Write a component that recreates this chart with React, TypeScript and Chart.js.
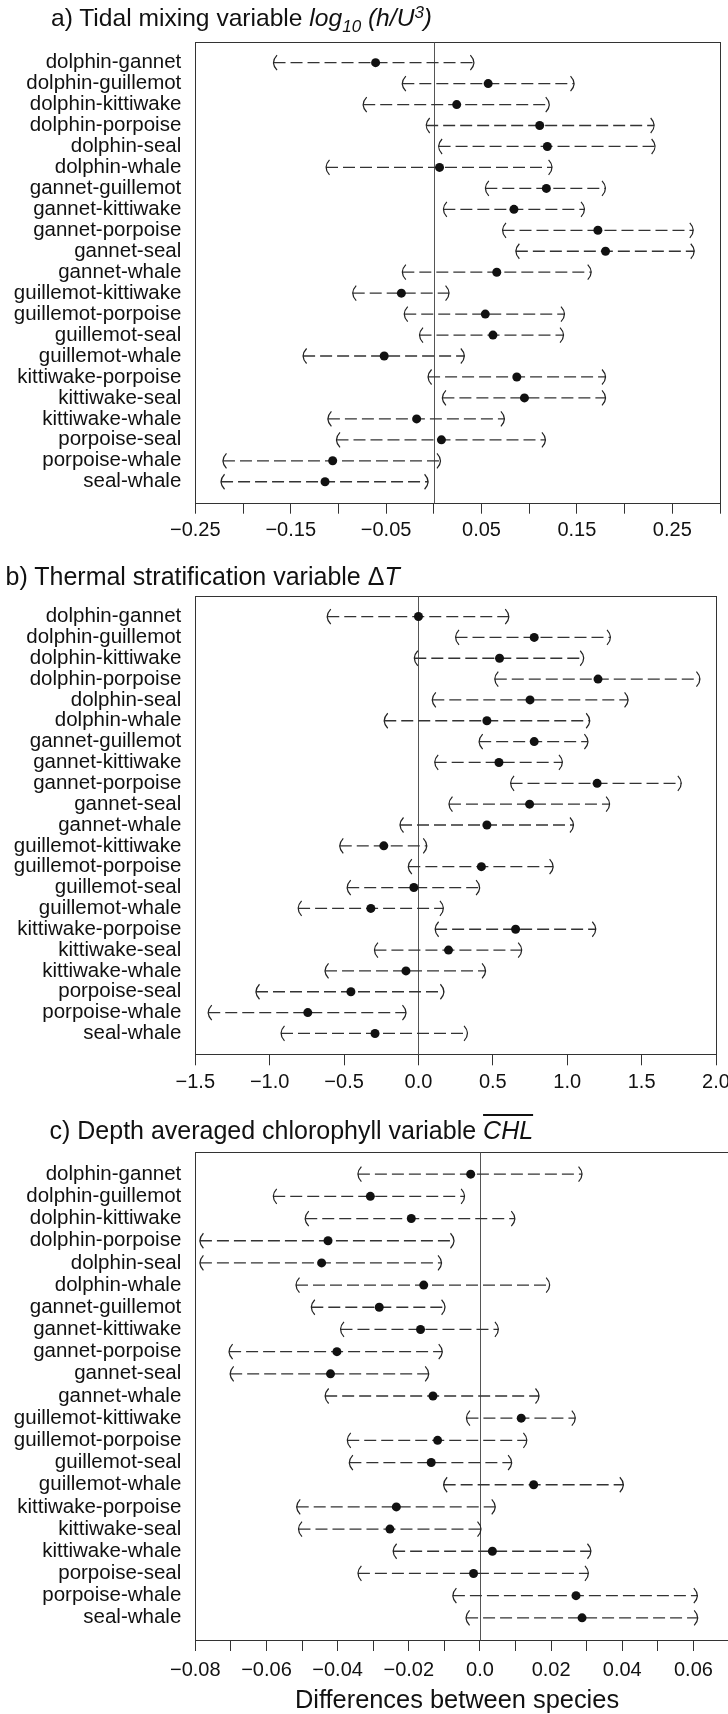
import React, { useEffect, useRef } from 'react';
import { Chart, registerables } from 'chart.js';

Chart.register(...registerables);

const FONT = '"Liberation Sans", Arial, Helvetica, sans-serif';

const PAIRS = [
  'dolphin-gannet', 'dolphin-guillemot', 'dolphin-kittiwake', 'dolphin-porpoise', 'dolphin-seal',
  'dolphin-whale', 'gannet-guillemot', 'gannet-kittiwake', 'gannet-porpoise', 'gannet-seal',
  'gannet-whale', 'guillemot-kittiwake', 'guillemot-porpoise', 'guillemot-seal', 'guillemot-whale',
  'kittiwake-porpoise', 'kittiwake-seal', 'kittiwake-whale', 'porpoise-seal', 'porpoise-whale', 'seal-whale',
];

// a) Tidal mixing variable
const A_LO = [-0.168, -0.033, -0.074, -0.008, 0.005, -0.113, 0.054, 0.010, 0.072, 0.086, -0.033, -0.085, -0.031, -0.015, -0.137, -0.006, 0.009, -0.111, -0.102, -0.221, -0.223];
const A_MEAN = [-0.061, 0.057, 0.024, 0.111, 0.119, 0.006, 0.118, 0.084, 0.172, 0.180, 0.066, -0.034, 0.054, 0.062, -0.052, 0.087, 0.095, -0.018, 0.008, -0.106, -0.114];
const A_HI = [0.042, 0.147, 0.121, 0.231, 0.232, 0.124, 0.180, 0.158, 0.272, 0.273, 0.165, 0.016, 0.137, 0.136, 0.032, 0.180, 0.180, 0.074, 0.117, 0.007, -0.006];
const A_TICKS = [-0.25, -0.2, -0.15, -0.1, -0.05, 0, 0.05, 0.1, 0.15, 0.2, 0.25, 0.3];
const A_TICK_LABELS = ['\u22120.25', '', '\u22120.15', '', '\u22120.05', '', '0.05', '', '0.15', '', '0.25', ''];

// b) Thermal stratification variable
const B_LO = [-0.613, 0.249, -0.028, 0.513, 0.093, -0.230, 0.408, 0.109, 0.619, 0.205, -0.124, -0.529, -0.068, -0.479, -0.809, 0.112, -0.296, -0.628, -1.092, -1.413, -0.924];
const B_MEAN = [0.0, 0.778, 0.545, 1.207, 0.750, 0.460, 0.778, 0.541, 1.201, 0.747, 0.460, -0.233, 0.423, -0.031, -0.320, 0.653, 0.202, -0.084, -0.454, -0.744, -0.292];
const B_HI = [0.607, 1.291, 1.111, 1.892, 1.409, 1.151, 1.139, 0.968, 1.767, 1.285, 1.042, 0.056, 0.905, 0.411, 0.168, 1.192, 0.694, 0.451, 0.171, -0.084, 0.330];
const B_TICKS = [-1.5, -1.0, -0.5, 0, 0.5, 1.0, 1.5, 2.0];
const B_TICK_LABELS = ['\u22121.5', '\u22121.0', '\u22120.5', '0.0', '0.5', '1.0', '1.5', '2.0'];

// c) Depth averaged chlorophyll variable
const C_LO = [-0.0343, -0.0581, -0.0491, -0.0787, -0.0787, -0.0517, -0.0474, -0.0392, -0.0705, -0.0702, -0.0435, -0.0038, -0.0373, -0.0367, -0.0102, -0.0515, -0.0510, -0.0244, -0.0343, -0.0076, -0.0039];
const C_MEAN = [-0.0026, -0.0308, -0.0193, -0.0427, -0.0445, -0.0158, -0.0283, -0.0167, -0.0402, -0.0420, -0.0132, 0.0116, -0.0119, -0.0137, 0.0151, -0.0235, -0.0253, 0.0035, -0.0018, 0.0270, 0.0287];
const C_HI = [0.0287, -0.0043, 0.0098, -0.0073, -0.0108, 0.0196, -0.0098, 0.0052, -0.0106, -0.0144, 0.0166, 0.0268, 0.0132, 0.0089, 0.0403, 0.0043, 0.0003, 0.0312, 0.0305, 0.0611, 0.0612];
const C_TICKS = [-0.08, -0.07, -0.06, -0.05, -0.04, -0.03, -0.02, -0.01, 0, 0.01, 0.02, 0.03, 0.04, 0.05, 0.06, 0.07];
const C_TICK_LABELS = ['\u22120.08', '', '\u22120.06', '', '\u22120.04', '', '\u22120.02', '', '0.0', '', '0.02', '', '0.04', '', '0.06', ''];

const CANVAS_W = 740;

interface PanelCfg {
  lo: number[]; mean: number[]; hi: number[];
  ticks: number[]; tickLabels: string[];
  min: number; max: number;
  height: number; padTop: number; axisH: number; right: number; labelPad: number;
}

function makeChart(canvas: HTMLCanvasElement, cfg: PanelCfg) {
  const intervals = {
    id: 'intervals',
    beforeDatasetsDraw(chart: any) {
      const { ctx, chartArea: a, scales } = chart;
      const x = scales.x, y = scales.y;
      ctx.save();
      ctx.strokeStyle = '#333';
      ctx.lineWidth = 1;
      const L = Math.round(a.left) + 0.5, T = Math.round(a.top) + 0.5;
      const R = Math.round(a.right) + 0.5, B = Math.round(a.bottom) + 0.5;
      ctx.strokeRect(L, T, R - L, B - T);
      const zx = Math.round(x.getPixelForValue(0)) + 0.5;
      ctx.strokeStyle = '#555';
      ctx.beginPath(); ctx.moveTo(zx, T); ctx.lineTo(zx, B); ctx.stroke();
      cfg.lo.forEach((lo, i) => {
        const x1 = x.getPixelForValue(lo);
        const x2 = x.getPixelForValue(cfg.hi[i]);
        const py = y.getPixelForValue(i + 1);
        ctx.strokeStyle = '#333';
        ctx.lineWidth = 1.3;
        ctx.setLineDash([12, 5]);
        ctx.beginPath(); ctx.moveTo(x1, py); ctx.lineTo(x2, py); ctx.stroke();
        ctx.setLineDash([]);
        ctx.lineWidth = 1.2;
        ctx.strokeStyle = '#222';
        ctx.beginPath(); ctx.moveTo(x1 + 3.5, py - 7.5); ctx.quadraticCurveTo(x1 - 3.5, py, x1 + 3.5, py + 7.5); ctx.stroke();
        ctx.beginPath(); ctx.moveTo(x2 - 3.5, py - 7.5); ctx.quadraticCurveTo(x2 + 3.5, py, x2 - 3.5, py + 7.5); ctx.stroke();
      });
      ctx.restore();
    },
  };

  return new Chart(canvas, {
    type: 'scatter',
    data: {
      datasets: [{
        data: cfg.mean.map((m, i) => ({ x: m, y: i + 1 })),
        pointRadius: 4.5,
        pointHoverRadius: 4.5,
        backgroundColor: '#111',
        borderWidth: 0,
      }],
    },
    options: {
      responsive: false,
      animation: false,
      devicePixelRatio: 1,
      events: [],
      layout: { padding: { top: cfg.padTop, right: CANVAS_W - cfg.right, left: 0, bottom: 0 } },
      plugins: { legend: { display: false }, tooltip: { enabled: false }, title: { display: false } },
      scales: {
        x: {
          type: 'linear',
          min: cfg.min,
          max: cfg.max,
          bounds: 'data',
          afterBuildTicks: (s: any) => { s.ticks = cfg.ticks.map((v) => ({ value: v })); },
          afterFit: (s: any) => { s.height = cfg.axisH; },
          ticks: {
            autoSkip: false, maxRotation: 0, minRotation: 0,
            padding: cfg.labelPad, color: '#111',
            font: { size: 20, family: FONT },
            callback: (_v: any, i: number) => cfg.tickLabels[i],
          },
          grid: { drawOnChartArea: false, drawTicks: true, tickLength: 11, color: '#333', lineWidth: 1 },
          border: { display: false },
        },
        y: {
          type: 'linear',
          reverse: true,
          min: 0,
          max: PAIRS.length + 1,
          afterBuildTicks: (s: any) => { s.ticks = PAIRS.map((_p, i) => ({ value: i + 1 })); },
          afterFit: (s: any) => { s.width = 195.3; },
          ticks: {
            autoSkip: false, padding: 14, color: '#111',
            font: { size: 20.5, family: FONT, lineHeight: 1 },
            callback: (_v: any, i: number) => PAIRS[i],
          },
          grid: { display: false, drawTicks: false },
          border: { display: false },
        },
      },
    },
    plugins: [intervals],
  } as any);
}

const PANELS: PanelCfg[] = [
  { lo: A_LO, mean: A_MEAN, hi: A_HI, ticks: A_TICKS, tickLabels: A_TICK_LABELS, min: -0.25, max: 0.3, height: 560, padTop: 41.7, axisH: 560 - 502.7, right: 720, labelPad: 4.5 },
  { lo: B_LO, mean: B_MEAN, hi: B_HI, ticks: B_TICKS, tickLabels: B_TICK_LABELS, min: -1.5, max: 2.0, height: 560, padTop: 35.7, axisH: 1120 - 1054.3, right: 716, labelPad: 4.8 },
  { lo: C_LO, mean: C_MEAN, hi: C_HI, ticks: C_TICKS, tickLabels: C_TICK_LABELS, min: -0.08, max: 0.07, height: 594, padTop: 32, axisH: 1714 - 1640, right: 729, labelPad: 7 },
];
const TOPS = [0, 560, 1120];

const titleStyle = (left: number, top: number, size = 25): React.CSSProperties => ({
  position: 'absolute', left, top, fontFamily: FONT, fontSize: size, lineHeight: 1,
  color: '#111', whiteSpace: 'nowrap',
});

export default function App() {
  const r0 = useRef<HTMLCanvasElement>(null);
  const r1 = useRef<HTMLCanvasElement>(null);
  const r2 = useRef<HTMLCanvasElement>(null);

  useEffect(() => {
    Chart.defaults.font.family = FONT;
    const refs = [r0, r1, r2];
    const charts = refs.map((r, i) => makeChart(r.current as HTMLCanvasElement, PANELS[i]));
    return () => { charts.forEach((c) => c.destroy()); };
  }, []);

  const refs = [r0, r1, r2];
  return (
    <div style={{ position: 'absolute', left: 0, top: 0, width: 728, height: 1714, overflow: 'hidden', background: '#fff' }}>
      {PANELS.map((p, i) => (
        <canvas key={i} ref={refs[i]} width={CANVAS_W} height={p.height}
          style={{ position: 'absolute', left: 0, top: TOPS[i], width: CANVAS_W, height: p.height }} />
      ))}
      <div style={titleStyle(51, 6, 24.6)}>
        a) Tidal mixing variable <i>log<span style={{ fontSize: 17, position: 'relative', top: 6 }}>10</span> (h/U<span style={{ fontSize: 17, position: 'relative', top: -8 }}>3</span>)</i>
      </div>
      <div style={titleStyle(5.5, 563.8)}>
        b) Thermal stratification variable Δ<i>T</i>
      </div>
      <div style={titleStyle(49.5, 1117.8)}>
        c) Depth averaged chlorophyll variable <i style={{ textDecoration: 'overline' }}>CHL</i>
      </div>
      <div style={{ ...titleStyle(457, 1687, 25.4), transform: 'translateX(-50%)' }}>
        Differences between species
      </div>
    </div>
  );
}
